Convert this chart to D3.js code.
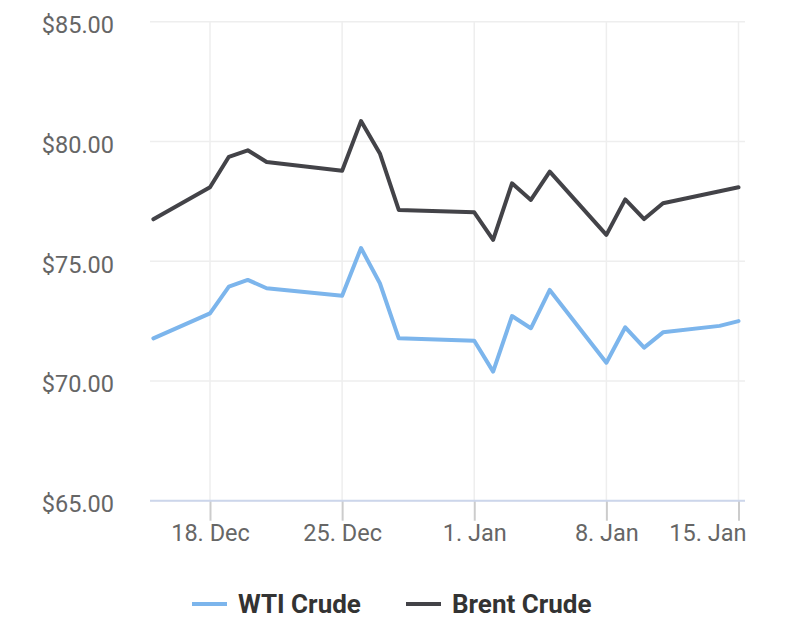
<!DOCTYPE html>
<html>
<head>
<meta charset="utf-8">
<script src="https://cdn.jsdelivr.net/npm/d3@7"></script>
<style>
body{margin:0;background:#fff;}
text{font-family:Roboto,"Liberation Sans",sans-serif;}
</style>
</head>
<body>
<div id="oil_chart"></div>
<script>
/*Crude oil prices, WTI vs Brent
values*/
var days=["2023-12-15","2023-12-18","2023-12-19","2023-12-20","2023-12-21",
"2023-12-25","2023-12-26","2023-12-27","2023-12-28","2024-01-01","2024-01-02",
"2024-01-03","2024-01-04","2024-01-05","2024-01-08","2024-01-09","2024-01-10",
"2024-01-11","2024-01-14","2024-01-15"];
var wti=[71.78,72.82,73.94,74.22,73.87,73.56,75.55,74.08,71.78,71.68,70.39,
72.71,72.2,73.8,70.76,72.24,71.39,72.03,72.3,72.5];
var brent=[76.75,78.09,79.36,79.63,79.14,78.78,80.85,79.5,77.14,77.04,75.89,
78.25,77.56,78.74,76.1,77.58,76.76,77.42,77.92,78.09];
var yTicks=[65,70,75,80,85];
var xTicks=["2023-12-18","2023-12-25","2024-01-01","2024-01-08","2024-01-15"];
var seriesNames=["WTI Crude","Brent Crude"];
var colors=["#7cb5ec","#434348"];

var W=786,H=628;
var plotL=150,plotR=745;
var parse=d3.utcParse("%Y-%m-%d");

var svg=d3.select("#oil_chart")
.append("svg")
.attr("width",W)
.attr("height",H)
.style("display","block");

var xScale=d3.scaleUtc()
.domain([parse("2023-12-18"),parse("2024-01-15")])
.range([210,738.5]);
var yScale=d3.scaleLinear().domain([65,85]).range([500.7,21.7]);

// horizontal grid
svg.append("g").selectAll("line")
.data(yTicks).enter()
.append("line")
.attr("x1",plotL).attr("x2",plotR)
.attr("y1",function(d){return yScale(d);})
.attr("y2",function(d){return yScale(d);})
.attr("stroke","#eeeeee").attr("stroke-width",1.5);

// vertical grid
svg.append("g").selectAll("line")
.data(xTicks).enter()
.append("line")
.attr("x1",function(d){return xScale(parse(d));})
.attr("x2",function(d){return xScale(parse(d));})
.attr("y1",yScale(85)).attr("y2",yScale(65))
.attr("stroke","#eeeeee").attr("stroke-width",1.5);

// y labels
svg.append("g").selectAll("text")
.data(yTicks).enter()
.append("text")
.attr("x",114)
.attr("y",function(d){return yScale(d)+11.5;})
.attr("text-anchor","end")
.attr("fill","#666666")
.style("font-size","23.5px")
.text(function(d){return "$"+d.toFixed(2);});

// x axis
var xAxis=svg.append("g")
.attr("transform","translate(0,"+yScale(65)+")")
.call(d3.axisBottom(xScale)
.tickValues(xTicks.map(parse))
.tickSize(20)
.tickSizeOuter(0)
.tickFormat(d3.utcFormat("%-d. %b")));
xAxis.select(".domain").remove();
xAxis.selectAll(".tick line").attr("stroke","#cccccc").attr("stroke-width",2);
xAxis.selectAll(".tick text")
.attr("y",0).attr("dy",0)
.attr("transform","translate(0,40)")
.attr("fill","#666666")
.style("font-family","Roboto,sans-serif")
.style("font-size","23.5px");
// last label is pulled inside the plot edge
var lastX=xScale(parse(xTicks[xTicks.length-1]));
xAxis.selectAll(".tick text")
.filter(function(d,i){return i==xTicks.length-1;})
.attr("text-anchor","end")
.attr("x",plotR+1-lastX);
xAxis.append("line")
.attr("x1",plotL).attr("x2",plotR)
.attr("y1",0).attr("y2",0)
.attr("stroke","#ccd6eb").attr("stroke-width",2);

// lines
var line=d3.line()
.x(function(d){return xScale(d.date);})
.y(function(d){return yScale(d.v);});
[wti,brent].forEach(function(vals,k){
var pts=vals.map(function(v,i){return {date:parse(days[i]),v:v};});
svg.append("path")
.datum(pts)
.attr("d",line)
.attr("fill","none")
.attr("stroke",colors[k])
.attr("stroke-width",4)
.attr("stroke-linejoin","round")
.attr("stroke-linecap","round");
});

// legend
var legX=[192,406];
var leg=svg.append("g").selectAll("g")
.data(seriesNames).enter()
.append("g")
.attr("transform",function(d,i){return "translate("+legX[i]+",604)";});
leg.append("line")
.attr("x1",0).attr("x2",35)
.attr("stroke",function(d,i){return colors[i];})
.attr("stroke-width",4);
leg.append("text")
.attr("x",46).attr("y",9)
.attr("fill","#333333")
.style("font-size","26px")
.style("font-weight","bold")
.text(function(d){return d;});
</script>
</body>
</html>
